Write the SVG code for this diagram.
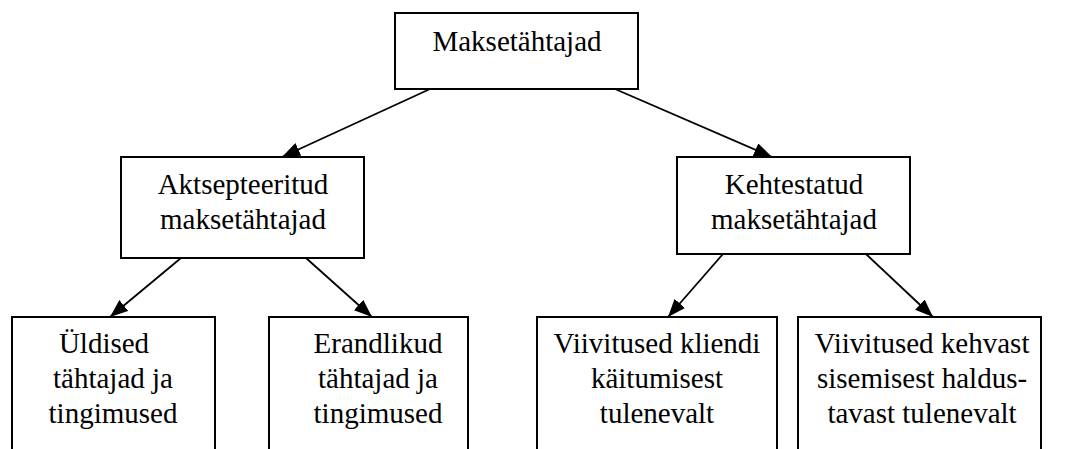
<svg xmlns="http://www.w3.org/2000/svg" width="1073" height="449" viewBox="0 0 1073 449">
<defs>
<style>
.box{fill:#fff;stroke:#000;stroke-width:2}
.t{font-family:"Liberation Serif","Times New Roman",serif;font-size:29px;fill:#000;text-anchor:middle}
.c{stroke:#000;stroke-width:1.8;fill:none;marker-end:url(#ah)}
</style>
<marker id="ah" markerUnits="userSpaceOnUse" markerWidth="18" markerHeight="14" refX="18" refY="7" orient="auto">
<path d="M0,0 L18,7 L0,14 Z" fill="#000"/>
</marker>
</defs>
<rect width="1073" height="449" fill="#fff"/>
<g id="connectors">
<line class="c" x1="430" y1="89" x2="282" y2="157"/>
<line class="c" x1="615" y1="89" x2="772" y2="157"/>
<line class="c" x1="181" y1="258" x2="110" y2="317"/>
<line class="c" x1="306" y1="258" x2="372" y2="317"/>
<line class="c" x1="723" y1="254" x2="668" y2="317"/>
<line class="c" x1="866" y1="254" x2="933" y2="317"/>
</g>
<g id="root">
<rect class="box" x="395" y="13" width="243" height="76"/>
<text class="t" x="517" y="51">Maksetähtajad</text>
</g>
<g id="aktsepteeritud">
<rect class="box" x="121" y="157" width="243" height="101"/>
<text class="t" x="243" y="194">Aktsepteeritud</text>
<text class="t" x="243" y="229">maksetähtajad</text>
</g>
<g id="kehtestatud">
<rect class="box" x="677" y="157" width="233" height="97"/>
<text class="t" x="794" y="194">Kehtestatud</text>
<text class="t" x="794" y="229">maksetähtajad</text>
</g>
<g id="uldised">
<rect class="box" x="12" y="317" width="203" height="150"/>
<text class="t" x="104" y="353">Üldised</text>
<text class="t" x="113" y="388">tähtajad ja</text>
<text class="t" x="113" y="423">tingimused</text>
</g>
<g id="erandlikud">
<rect class="box" x="269" y="317" width="199" height="150"/>
<text class="t" x="378" y="353">Erandlikud</text>
<text class="t" x="378" y="388">tähtajad ja</text>
<text class="t" x="378" y="423">tingimused</text>
</g>
<g id="kliendi">
<rect class="box" x="537" y="317" width="240" height="150"/>
<text class="t" x="657" y="353">Viivitused kliendi</text>
<text class="t" x="657" y="388">käitumisest</text>
<text class="t" x="657" y="423">tulenevalt</text>
</g>
<g id="sisemisest">
<rect class="box" x="798" y="317" width="243" height="150"/>
<text class="t" x="922" y="353">Viivitused kehvast</text>
<text class="t" x="922" y="388">sisemisest haldus-</text>
<text class="t" x="922" y="423">tavast tulenevalt</text>
</g>
</svg>
